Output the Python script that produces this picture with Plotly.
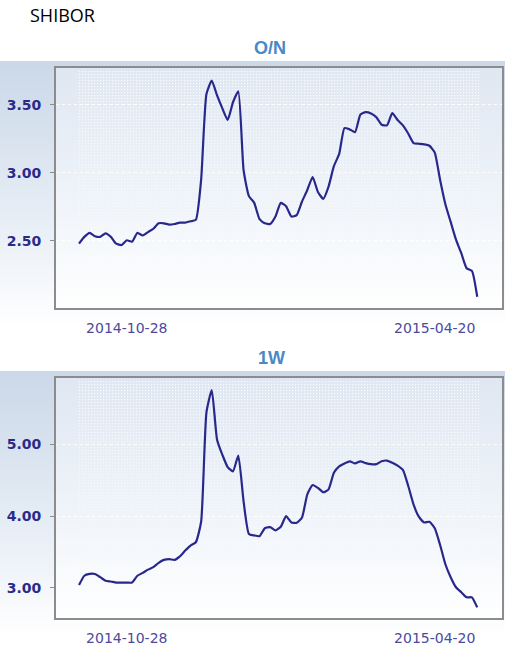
import base64
import pandas as pd
import plotly.graph_objects as go

# SHIBOR O/N and 1W, values read every 3 days from the picture
start_date = "2014-10-01"
n_points = 76
on_values = [2.48, 2.53, 2.56, 2.535, 2.53, 2.556, 2.53, 2.48, 2.47, 2.505,
             2.495, 2.56, 2.54, 2.565, 2.59, 2.63, 2.63, 2.62, 2.625, 2.635,
             2.635, 2.645, 2.655, 2.95, 3.58, 3.68, 3.57, 3.475, 3.39, 3.52,
             3.60, 3.02, 2.83, 2.78, 2.66, 2.63, 2.625, 2.68, 2.78, 2.755,
             2.68, 2.69, 2.79, 2.875, 2.97, 2.86, 2.81, 2.90, 3.05, 3.14,
             3.33, 3.32, 3.30, 3.43, 3.447, 3.437, 3.41, 3.355, 3.35, 3.44,
             3.39, 3.35, 3.29, 3.22, 3.215, 3.21, 3.20, 3.15, 2.95, 2.77,
             2.64, 2.51, 2.41, 2.30, 2.28, 2.09]
w1_values = [3.04, 3.17, 3.195, 3.195, 3.15, 3.10, 3.09, 3.075, 3.075, 3.075,
             3.075, 3.17, 3.21, 3.255, 3.29, 3.35, 3.39, 3.40, 3.39, 3.44,
             3.52, 3.59, 3.635, 3.92, 5.44, 5.75, 5.06, 4.85, 4.68, 4.62,
             4.84, 4.20, 3.75, 3.73, 3.72, 3.83, 3.845, 3.80, 3.85, 4.00,
             3.91, 3.905, 3.98, 4.30, 4.43, 4.39, 4.33, 4.37, 4.60, 4.69,
             4.73, 4.76, 4.73, 4.76, 4.735, 4.72, 4.72, 4.76, 4.77, 4.74,
             4.70, 4.64, 4.42, 4.16, 3.99, 3.91, 3.92, 3.83, 3.60, 3.33,
             3.15, 3.01, 2.94, 2.87, 2.87, 2.73]
x_ticks = ["2014-10-28", "2015-04-20"]
on_ticks = [2.5, 3.0, 3.5]
w1_ticks = [3.0, 4.0, 5.0]

dates = pd.date_range(start_date, periods=n_points, freq="3D")

W, H = 507, 654
line_col = "#28288c"
frame_col = "#8c8c8c"

# panel background (gradient + dotted texture) as an svg picture
svg = f'''<svg xmlns="http://www.w3.org/2000/svg" width="{W}" height="280" viewBox="0 0 {W} 280">
<defs>
<linearGradient id="og" x1="0" y1="0" x2="0" y2="1">
<stop offset="0" stop-color="#cbd8e8"/><stop offset="0.55" stop-color="#e6edf5"/><stop offset="0.95" stop-color="#ffffff"/></linearGradient>
<linearGradient id="ig" x1="0" y1="0" x2="0" y2="1">
<stop offset="0" stop-color="#dfe7f2"/><stop offset="0.6" stop-color="#f1f5fa"/><stop offset="1" stop-color="#ffffff"/></linearGradient>
<linearGradient id="mg" x1="0" y1="0" x2="0" y2="1">
<stop offset="0" stop-color="#fff" stop-opacity="0.9"/><stop offset="0.7" stop-color="#fff" stop-opacity="0.2"/><stop offset="1" stop-color="#fff" stop-opacity="0"/></linearGradient>
<pattern id="dots" width="3" height="3" patternUnits="userSpaceOnUse"><rect x="1" y="1" width="1.2" height="1.2" fill="#ffffff"/></pattern>
<mask id="mk"><rect x="0" y="0" width="{W}" height="280" fill="url(#mg)"/></mask>
</defs>
<rect x="0" y="0" width="{W - 2}" height="280" fill="url(#og)"/>
<rect x="56" y="7" width="446" height="240" fill="url(#ig)"/>
<rect x="77" y="9" width="402" height="236" fill="url(#dots)" mask="url(#mk)"/>
</svg>'''
svg_src = "data:image/svg+xml;base64," + base64.b64encode(svg.encode()).decode()

fig = go.Figure()
fig.add_trace(go.Scatter(x=dates, y=on_values, mode="lines", xaxis="x", yaxis="y",
                         line=dict(color=line_col, width=2.2, shape="spline", smoothing=0.5),
                         showlegend=False))
fig.add_trace(go.Scatter(x=dates, y=w1_values, mode="lines", xaxis="x2", yaxis="y2",
                         line=dict(color=line_col, width=2.2, shape="spline", smoothing=0.5),
                         showlegend=False))

xdom = [56 / W, 502 / W]
xrange = ["2014-09-18", "2015-05-28"]


def xax(anchor):
    return dict(domain=xdom, anchor=anchor, type="date", range=xrange,
                tickvals=x_ticks, ticktext=x_ticks, showgrid=False, ticks="",
                ticklabelstandoff=6, showline=True, mirror=True,
                linecolor=frame_col, linewidth=2, zeroline=False,
                tickfont=dict(family="DejaVu Sans", size=14, color="#4a4a9e"))


def yax(anchor, dom, rng, ticks):
    return dict(domain=dom, anchor=anchor, range=rng, tickvals=ticks,
                ticktext=["%.2f" % t for t in ticks], showgrid=True,
                gridcolor="rgba(255,255,255,0.9)", griddash="dot", gridwidth=1,
                ticks="outside", ticklen=4, tickcolor=frame_col,
                ticklabelstandoff=6, showline=True, mirror=True,
                linecolor=frame_col, linewidth=2, zeroline=False,
                tickfont=dict(family="DejaVu Sans", size=14, color="#2a2a8c",
                              weight="bold"))


fig.update_layout(
    width=W, height=H,
    margin=dict(l=0, r=0, t=0, b=0),
    paper_bgcolor="white",
    plot_bgcolor="rgba(0,0,0,0)",
    xaxis=xax("y"),
    yaxis=yax("x", [1 - 308 / H, 1 - 68 / H], [2.007, 3.772], on_ticks),
    xaxis2=xax("y2"),
    yaxis2=yax("x2", [1 - 618 / H, 1 - 378 / H], [2.583, 5.917], w1_ticks),
    images=[
        dict(source=svg_src, xref="paper", yref="paper", x=0, y=1 - 61 / H,
             sizex=1, sizey=280 / H, xanchor="left", yanchor="top",
             sizing="stretch", layer="below"),
        dict(source=svg_src, xref="paper", yref="paper", x=0, y=1 - 371 / H,
             sizex=1, sizey=280 / H, xanchor="left", yanchor="top",
             sizing="stretch", layer="below"),
    ],
    annotations=[
        dict(text="SHIBOR", xref="paper", yref="paper", x=28 / W, y=1 - 15 / H,
             xanchor="left", yanchor="middle", showarrow=False,
             font=dict(family="Open Sans", size=18, color="black")),
        dict(text="<b>O/N</b>", xref="paper", yref="paper", x=270 / W, y=1 - 48 / H,
             xanchor="center", yanchor="middle", showarrow=False,
             font=dict(family="Liberation Sans", size=18, color="#4a88c6")),
        dict(text="<b>1W</b>", xref="paper", yref="paper", x=271 / W, y=1 - 358 / H,
             xanchor="center", yanchor="middle", showarrow=False,
             font=dict(family="Liberation Sans", size=18, color="#4a88c6")),
    ],
)

# the page body has a default 8px margin; drop it so the figure sits at 0,0
fig.write_html("out.html", config={"displayModeBar": False},
               post_script="document.body.style.margin='0';")
